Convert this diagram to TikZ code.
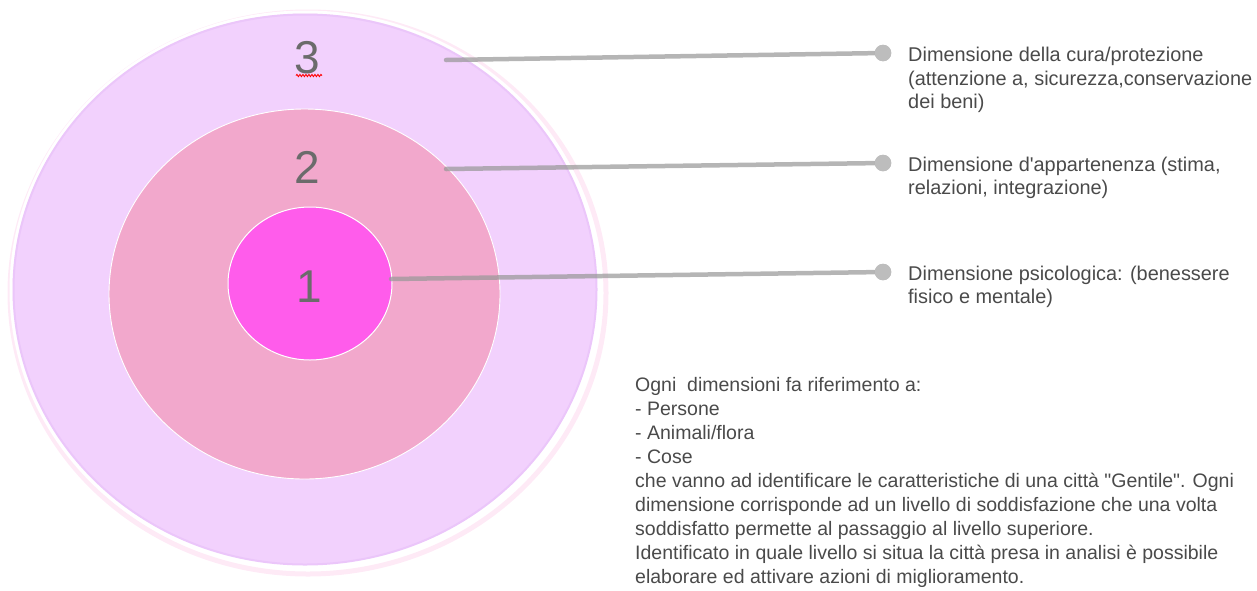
\documentclass[tikz,border=0pt]{standalone}
\usepackage{fontspec}
\setmainfont{Liberation Sans}
\newfontfamily\plainsans{Liberation Sans}
\usetikzlibrary{shapes.geometric,decorations.pathmorphing}
\definecolor{lav}{HTML}{F2D1FD}
\definecolor{lavedge}{HTML}{EBC6FA}
\definecolor{midpink}{HTML}{F2A8CC}
\definecolor{magenta1}{HTML}{FF5CEB}
\definecolor{glowpink}{HTML}{FBC3E6}
\definecolor{digitg}{HTML}{6B6B6B}
\definecolor{textg}{HTML}{4A4A4A}
\definecolor{lineg}{HTML}{989898}
\definecolor{dotg}{HTML}{BDBDBD}
\newcommand{\txtblock}[1]{\begin{tabular}[t]{@{}l@{}}#1\end{tabular}}
\tikzset{
  ring/.style={ellipse, inner sep=0pt},
  digit/.style={text=digitg, font=\fontsize{46}{50}\selectfont, inner sep=0pt},
  leader/.style={draw=lineg, draw opacity=0.72, line width=4.5pt, line cap=round},
  enddot/.style={circle, fill=dotg, minimum size=16.5pt, inner sep=0pt},
  label/.style={anchor=base west, inner sep=0pt, text=textg, font=\plainsans\fontsize{19.9}{23.4}\selectfont},
  note/.style={anchor=base west, inner sep=0pt, text=textg, font=\plainsans\fontsize{19.5}{24.1}\selectfont}
}
\begin{document}
\begin{tikzpicture}[x=1pt,y=-1pt]
\useasboundingbox (0,0) rectangle (1257,590);
% outer glow and ring
\node[ring, draw=glowpink, draw opacity=0.35, line width=5pt, minimum width=596pt, minimum height=562pt] (glow) at (308,293) {};
\node[ring, draw=white, line width=3pt, minimum width=589pt, minimum height=556pt] (halo) at (305.5,290) {};
\node[ring, fill=lav, draw=lavedge, line width=2pt, minimum width=583pt, minimum height=550pt] (c3) at (305,289.5) {};
\node[ring, fill=midpink, draw=white, line width=0.9pt, minimum width=391pt, minimum height=370pt] (c2) at (304.5,294) {};
\node[ring, fill=magenta1, draw=white, line width=1pt, minimum width=164pt, minimum height=153pt] (c1) at (310,283.5) {};
% digits
\node[digit] (n3) at (307,58) {3};
\node[digit] (n2) at (307,167) {2};
\node[digit] (n1) at (309,287) {1};
\coordinate (sqa) at (296,75.5);
\coordinate (sqb) at (322,75.5);
\draw[red, line width=0.9pt, decorate, decoration={snake, amplitude=1.1pt, segment length=3pt}] (sqa) -- (sqb);
% leaders
\coordinate (s3) at (446,60);
\coordinate (s2) at (446,169);
\coordinate (s1) at (391,279);
\node[enddot] (d3) at (883,53) {};
\node[enddot] (d2) at (883,163) {};
\node[enddot] (d1) at (883,272) {};
\draw[leader] (s3) -- (d3.center);
\draw[leader] (s2) -- (d2.center);
\draw[leader] (s1) -- (d1.center);
\node[enddot] at (d3) {};
\node[enddot] at (d2) {};
\node[enddot] at (d1) {};
% labels
\node[label] (t3) at (908,61.7) {\txtblock{Dimensione della cura/protezione\\(attenzione a, sicurezza,conservazione\\dei beni)}};
\node[label] (t2) at (908,171.5) {\txtblock{Dimensione d'appartenenza (stima,\\relazioni, integrazione)}};
\node[label] (t1) at (908,280.5) {\txtblock{Dimensione psicologica: (benessere\\fisico e mentale)}};
\node[note] (nb) at (635,391) {\txtblock{Ogni\ \ dimensioni fa riferimento a:\\- Persone\\- Animali/flora\\- Cose\\che vanno ad identificare le caratteristiche di una città "Gentile". Ogni\\dimensione corrisponde ad un livello di soddisfazione che una volta\\soddisfatto permette al passaggio al livello superiore.\\Identificato in quale livello si situa la città presa in analisi è possibile\\elaborare ed attivare azioni di miglioramento.}};
\end{tikzpicture}
\end{document}
